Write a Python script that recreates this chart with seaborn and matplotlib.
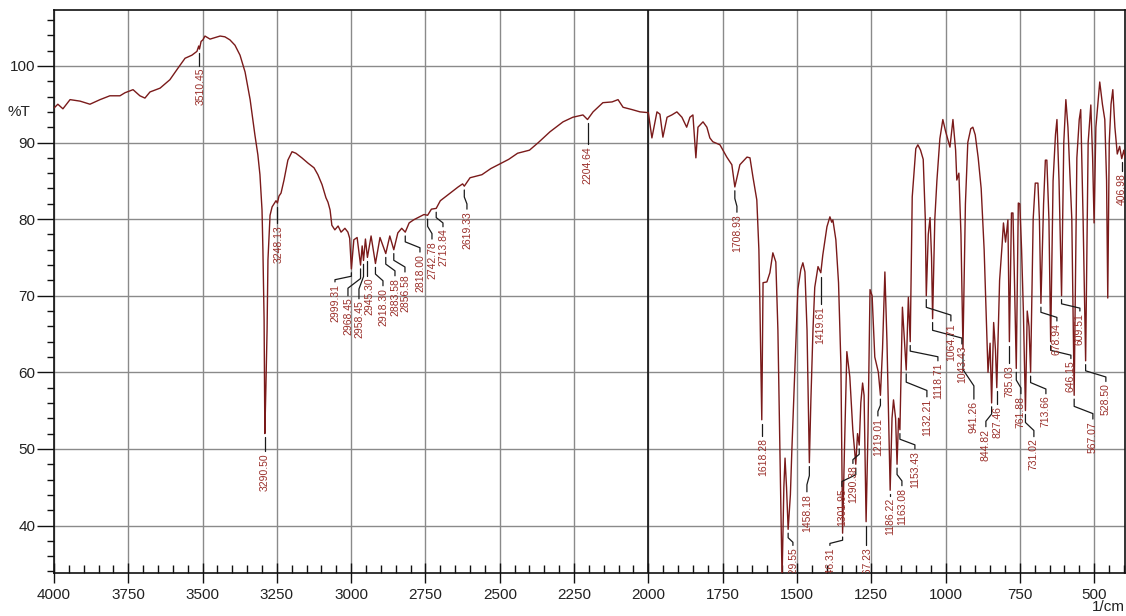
import matplotlib
matplotlib.use("Agg")
import matplotlib.pyplot as plt
import seaborn as sns
import pandas as pd
from matplotlib.ticker import MultipleLocator

# Infrared spectrum: wavenumber (1/cm) vs transmittance (%T)
wavenumber = [
    4000, 3987, 3970, 3946, 3912, 3879, 3845, 3812, 3778, 3761, 3734, 3711, 3694, 3677,
    3643, 3610, 3583, 3559, 3536, 3519, 3513, 3510.45, 3505, 3499, 3492, 3475, 3458, 3441,
    3425, 3408, 3391, 3374, 3357, 3340, 3324, 3314, 3307, 3300, 3297, 3293, 3290.50, 3287,
    3283, 3280, 3273, 3266, 3253, 3248.13, 3243, 3236, 3226, 3213, 3199, 3186, 3166, 3145,
    3125, 3112, 3098, 3085, 3078, 3071, 3065, 3055, 3044, 3034, 3021, 3011, 3005, 2999.31,
    2991, 2980, 2968.45, 2963, 2958.45, 2952, 2945.30, 2933, 2918.30, 2903, 2883.58, 2870,
    2856.58, 2843, 2830, 2818.00, 2805, 2790, 2770, 2755, 2742.78, 2730, 2713.84, 2700,
    2680, 2660, 2640, 2625, 2619.33, 2600, 2560, 2530, 2500, 2470, 2440, 2400, 2370, 2331,
    2287, 2254, 2220, 2204.64, 2186, 2153, 2122, 2102, 2085, 2055, 2028, 2000, 1988, 1971,
    1961, 1951, 1937, 1921, 1904, 1887, 1871, 1860, 1850, 1840, 1833, 1816, 1803, 1793,
    1783, 1759, 1736, 1719, 1708.93, 1692, 1668, 1658, 1648, 1635, 1628, 1625, 1618.28,
    1614, 1601, 1591, 1581, 1571, 1564, 1556, 1550, 1544, 1540, 1535, 1529.55, 1522, 1517,
    1507, 1497, 1487, 1480, 1473, 1466, 1458.18, 1453, 1446, 1440, 1429, 1419.61, 1413,
    1399, 1389, 1383, 1379, 1369, 1360, 1352, 1346.31, 1340, 1332, 1322, 1312, 1301.95,
    1296, 1290.38, 1285, 1279, 1274, 1267.23, 1261, 1254, 1247, 1238, 1226, 1219.01, 1212,
    1204, 1197, 1186.22, 1180, 1175, 1168, 1163.08, 1158, 1153.43, 1145, 1138, 1132.21,
    1125, 1118.71, 1112, 1100, 1093, 1084, 1075, 1068, 1064.71, 1058, 1052, 1047, 1043.43,
    1036, 1029, 1019, 1009, 1000, 985, 975, 966, 962, 955, 948, 941.26, 933, 925, 915, 908,
    900, 890, 880, 870, 862, 857, 850, 844.82, 838, 832, 827.46, 818, 810, 805, 798, 790,
    785.03, 778, 773, 768, 761.88, 755, 750, 744, 738, 731.02, 725, 719, 713.66, 705, 698,
    689, 684, 678.94, 670, 664, 659, 652, 646.15, 638, 630, 625, 618, 609.51, 602, 595, 588,
    575, 567.07, 558, 550, 545, 537, 528.50, 520, 511, 505, 500, 494, 481, 472, 464, 458,
    454, 449, 443, 437, 430, 422, 414, 406.98, 400, 396,
]
transmittance = [
    94.5, 95.0, 94.4, 95.6, 95.4, 95.0, 95.6, 96.1, 96.1, 96.5, 96.9, 96.1, 95.8, 96.6,
    97.1, 98.2, 99.7, 101.0, 101.4, 101.9, 102.6, 102.2, 103.2, 103.4, 103.9, 103.5, 103.7, 103.9,
    103.8, 103.4, 102.7, 101.4, 99.2, 95.6, 91.0, 88.4, 85.8, 81.2, 76.0, 66.8, 52.0, 58.0,
    65.5, 74.7, 80.5, 81.6, 82.4, 82.1, 83.0, 83.4, 85.1, 87.7, 88.8, 88.6, 88.0, 87.3,
    86.7, 85.8, 84.5, 82.8, 82.2, 81.2, 79.2, 78.6, 79.1, 78.3, 78.8, 78.3, 77.5, 73.5,
    77.3, 77.6, 74.0, 76.5, 74.6, 77.4, 75.0, 77.8, 74.2, 77.6, 75.5, 77.8,
    76.0, 78.2, 78.8, 78.3, 79.5, 79.9, 80.3, 80.6, 80.5, 81.3, 81.4, 82.4,
    83.0, 83.6, 84.2, 84.6, 84.3, 85.4, 85.8, 86.6, 87.2, 87.8, 88.6, 89.0, 90.0, 91.4,
    92.7, 93.3, 93.6, 93.0, 94.0, 95.2, 95.3, 95.6, 94.6, 94.3, 94.0, 93.9, 90.6, 94.0,
    93.7, 90.7, 93.3, 93.6, 94.0, 93.3, 92.0, 93.3, 93.6, 88.0, 92.0, 92.7, 92.0, 90.6,
    90.1, 89.7, 88.1, 87.1, 84.2, 87.1, 88.1, 88.0, 85.5, 82.5, 76.0, 69.8, 53.8,
    71.7, 71.8, 73.0, 75.6, 74.4, 65.5, 47.0, 33.0, 45.0, 48.8, 45.0, 39.5, 44.0, 49.9,
    60.3, 70.8, 73.4, 74.3, 73.1, 65.5, 48.2, 56.4, 65.5, 71.1, 73.8, 73.0, 75.3,
    79.0, 80.3, 79.6, 79.9, 77.3, 71.7, 61.0, 39.0, 50.0, 62.7, 59.4, 52.5, 48.0,
    52.0, 50.5, 56.0, 58.6, 57.0, 40.5, 52.0, 70.8, 70.0, 62.0, 60.0, 57.0, 63.0,
    73.1, 64.0, 44.6, 54.0, 56.4, 54.0, 48.0, 54.0, 52.5, 68.5, 64.0, 60.3,
    69.8, 64.0, 82.9, 89.2, 89.7, 89.0, 87.8, 80.0, 70.0, 78.0, 80.2, 75.0, 67.0,
    80.0, 85.0, 90.5, 93.0, 91.5, 89.4, 93.0, 89.0, 85.1, 86.0, 78.0, 63.0, 82.0, 90.0, 91.8, 92.0,
    91.0, 88.0, 84.0, 76.0, 66.0, 60.0, 63.8, 56.0, 66.5, 63.0, 58.0, 72.0, 76.4, 79.5, 77.0, 79.9,
    64.0, 80.8, 80.8, 72.0, 60.5, 82.1, 82.0, 76.0, 68.0, 55.0, 68.0, 66.0, 60.0, 80.0, 84.7,
    84.7, 80.0, 69.0, 82.0, 87.7, 87.7, 80.0, 64.0, 85.0, 91.0, 93.0, 85.0, 70.0, 90.0, 95.6, 92.0,
    80.0, 57.0, 88.0, 93.0, 94.3, 80.0, 61.5, 90.0, 94.9, 88.0, 79.5, 92.0, 97.9, 95.0, 93.0, 85.0,
    69.7, 90.0, 95.0, 96.9, 92.0, 88.5, 89.5, 87.9, 89.0, 88.0,
]

# Picked peaks (wavenumber, %T at the band)
peak_wavenumber = [
    3510.45, 3290.50, 3248.13, 2999.31, 2968.45, 2958.45, 2945.30, 2918.30, 2883.58,
    2856.58, 2818.00, 2742.78, 2713.84, 2619.33, 2204.64, 1708.93, 1618.28, 1529.55,
    1458.18, 1419.61, 1346.31, 1301.95, 1290.38, 1267.23, 1219.01, 1186.22, 1163.08,
    1153.43, 1132.21, 1118.71, 1064.71, 1043.43, 941.26, 844.82, 827.46, 785.03, 761.88,
    731.02, 713.66, 678.94, 646.15, 609.51, 567.07, 528.50, 406.98,
]
peak_transmittance = [
    102.2, 52.0, 82.1, 73.5, 74.0, 74.6, 75.0, 74.2, 75.5,
    76.0, 78.3, 80.5, 81.4, 84.3, 93.0, 84.2, 53.8, 39.5,
    48.2, 73.0, 39.0, 48.0, 50.5, 40.5, 57.0, 44.6, 48.0,
    52.5, 60.3, 64.0, 70.0, 67.0, 63.0, 56.0, 58.0, 64.0, 60.5,
    55.0, 60.0, 69.0, 64.0, 70.0, 57.0, 61.5, 87.9,
]

# Where each peak label sits (wavenumber of the text column, %T at the text top)
label_anchor = [
    (3505.4, 99.9), (3290.0, 49.6), (3243.0, 79.4), (3054.5, 71.7), (3010.8, 69.9),
    (2973.8, 69.5), (2940.1, 72.5), (2893.0, 71.2), (2852.6, 72.5), (2819.0, 73.0),
    (2768.5, 75.6), (2728.1, 77.3), (2691.1, 78.9), (2610.4, 81.2), (2203.3, 89.7),
    (1701.9, 80.8), (1614.4, 51.6), (1513.5, 37.3), (1466.4, 44.3), (1422.6, 68.8),
    (1389.0, 37.3), (1348.6, 45.0), (1311.6, 48.0), (1264.5, 37.3), (1227.5, 54.2),
    (1187.1, 43.8), (1146.7, 45.1), (1103.0, 49.9), (1062.6, 56.7), (1025.6, 61.4),
    (981.9, 66.6), (944.9, 63.6), (904.5, 56.4), (864.1, 52.8), (823.7, 55.8),
    (783.3, 61.1), (746.3, 57.1), (702.6, 51.5), (662.2, 57.1), (625.2, 66.6),
    (578.1, 61.7), (547.8, 67.9), (504.1, 53.8), (460.4, 58.7), (406.5, 86.2),
]

sns.set_theme(style="white")
plt.rcParams["font.family"] = ["Liberation Sans", "DejaVu Sans"]

W, H = 1126, 616
fig = plt.figure(figsize=(W / 100, H / 100), dpi=100)
ax = fig.add_axes([54 / W, 1 - 573 / H, (1125 - 54) / W, (573 - 10) / H])

spectrum = pd.DataFrame({"wavenumber": wavenumber, "T": transmittance})
sns.lineplot(data=spectrum, x="wavenumber", y="T", sort=False, estimator=None,
             color="#7a1a1a", linewidth=1.0, ax=ax, zorder=3)

ax.set_xlim(4000, 396)
ax.set_ylim(33.8, 107.3)

ax.xaxis.set_major_locator(MultipleLocator(250))
ax.xaxis.set_minor_locator(MultipleLocator(50))
ax.yaxis.set_major_locator(MultipleLocator(10))
ax.yaxis.set_minor_locator(MultipleLocator(2))

ax.grid(True, which="major", color="#8a8a8a", linewidth=1.0, zorder=0)
ax.axvline(2000, color="#111111", linewidth=1.2, zorder=1)

ax.tick_params(which="both", bottom=True, left=True, top=False, right=False)
ax.tick_params(axis="x", which="major", direction="inout", length=14, width=1.0,
               color="#111111", labelsize=11, pad=4, labelcolor="#222222")
ax.tick_params(axis="x", which="minor", direction="in", length=6, width=1.0, color="#111111")
ax.tick_params(axis="y", which="major", direction="out", length=12, width=1.0,
               color="#111111", labelsize=11, pad=1.5, labelcolor="#222222")
ax.tick_params(axis="y", which="minor", direction="out", length=5, width=1.0, color="#111111")

ax.set_xlabel("")
ax.set_ylabel("")
for side in ["left", "bottom", "top", "right"]:
    ax.spines[side].set_visible(True)
    ax.spines[side].set_color("#111111")
    ax.spines[side].set_linewidth(1.2)

# Peak labels with dog-leg leader lines
for pw, pt, (lw, lt) in zip(peak_wavenumber, peak_transmittance, label_anchor):
    start = pt - 0.5
    if abs(pw - lw) < 6:
        xs, ys = [pw, pw], [start, lt + 0.1]
    else:
        k1 = start - 0.35 * (start - lt)
        k2 = start - 0.7 * (start - lt)
        xs, ys = [pw, pw, lw, lw], [start, k1, k2, lt + 0.1]
    ax.plot(xs, ys, color="#1a1a1a", linewidth=0.9, zorder=4, clip_on=True)
    ax.text(lw, lt - 0.15, f"{pw:.2f}", rotation=90, ha="center", va="top",
            fontsize=7.5, color="#9a2f2a", zorder=5, clip_on=True)

fig.text(19 / W, 1 - 112 / H, "%T", ha="center", va="center", fontsize=11, color="#222222")
fig.text(1125 / W, 1 - 607 / H, "1/cm", ha="right", va="center", fontsize=11, color="#222222")

fig.savefig("out.png", dpi=100, facecolor="white")
